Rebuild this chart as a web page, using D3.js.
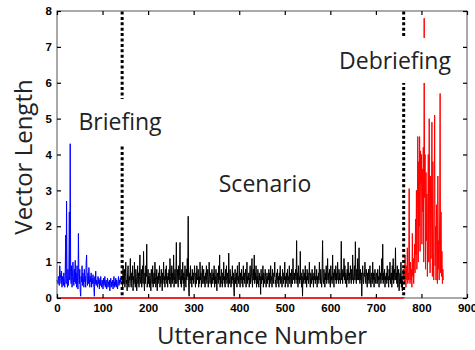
<!DOCTYPE html>
<html><head><meta charset="utf-8">
<script src="https://cdn.jsdelivr.net/npm/d3@7"></script>
<style>body{margin:0;background:#fff}svg{display:block}</style>
</head><body>
<svg id="c" width="475" height="350"></svg>
<script>
// ---- data ----
const xTicks = [0,100,200,300,400,500,600,700,800,900];
const yTicks = [0,1,2,3,4,5,6,7,8];
const phaseBounds = [143, 761];
const phaseLabels = ["Briefing","Scenario","Debriefing"];
const briefingStart = 0;
const briefing = [
0.5,0.45,0.4,0.6,0.5,0.35,0.9,0.7,0.55,0.4,0.75,0.3,0.6,0.5,0.35,0.7,0.45,0.3,0.6,1.75,
0.4,2.7,0.5,0.3,0.8,0.35,0.6,2.4,0.5,4.3,0.7,0.4,0.9,0.3,0.6,1.0,0.5,0.35,0.8,0.45,
1.05,0.4,0.7,0.3,0.9,0.5,0.25,1.8,0.6,0.4,0.8,0.2,0.05,0.6,0.45,0.9,0.35,0.7,0.5,0.3,
0.8,0.45,0.6,0.3,1.0,1.2,0.5,0.35,0.7,0.4,0.85,0.55,0.3,0.6,0.45,0.7,0.3,0.55,0.4,0.65,
0.5,0.3,0.05,0.6,0.4,0.75,0.35,0.5,0.45,0.3,0.6,0.4,0.55,0.25,0.5,0.35,0.6,0.4,0.3,0.5,
0.45,0.25,0.55,0.35,0.4,0.6,0.3,0.45,0.5,0.25,0.4,0.55,0.3,0.45,0.35,0.5,0.2,0.4,0.55,0.3,
0.45,0.35,0.5,0.25,0.4,0.6,0.3,0.45,0.35,0.55,0.3,0.5,0.4,0.25,0.45,0.6,0.35,0.5,0.4,0.55,0.45,0.6,0.5];
const scenarioStart = 143;
const scenario = [
0.6,0.3,0.9,0.5,0.4,0.8,0.3,0.6,1.0,0.4,0.5,0.2,0.7,0.9,0.4,0.3,0.6,0.5,1.1,0.4,
0.3,0.7,0.5,0.9,0.2,0.6,0.4,1.0,0.5,0.3,0.8,0.6,0.2,0.5,0.9,0.4,0.7,0.3,0.6,1.2,
0.5,0.4,0.8,0.3,0.6,0.9,0.4,1.3,0.5,0.2,0.7,0.4,0.9,0.6,1.5,0.3,0.5,0.8,0.4,0.6,
0.3,0.7,0.5,0.2,0.8,0.6,0.4,0.9,0.3,0.5,0.7,0.4,1.0,0.6,0.3,0.5,0.8,0.2,0.6,0.4,
0.7,0.5,0.9,0.3,0.6,0.4,0.8,0.5,0.2,0.7,0.5,1.0,0.4,0.6,0.3,0.8,0.5,0.9,0.4,0.6,
0.3,0.7,0.5,0.8,0.4,1.1,0.6,0.3,0.5,0.9,0.4,0.7,0.5,1.2,0.3,0.6,0.8,0.4,0.7,1.55,
0.4,0.6,0.8,0.3,0.9,0.5,0.7,1.55,0.4,0.6,0.3,0.8,0.5,1.0,0.4,0.7,0.2,0.6,0.9,0.5,
0.3,0.8,0.5,1.1,0.6,2.28,0.3,0.05,0.7,0.5,0.9,0.4,0.6,0.3,0.8,0.5,0.7,0.4,0.6,0.9,
0.5,0.3,0.7,0.4,0.9,0.6,0.5,0.8,0.3,0.6,0.4,1.0,0.5,0.7,0.3,0.6,0.9,0.4,0.5,0.8,
0.4,0.6,0.3,0.7,0.5,0.9,0.4,0.6,0.8,0.3,0.5,1.0,0.6,0.4,0.7,0.5,0.3,0.8,0.6,0.4,
0.7,0.5,0.9,0.3,0.6,0.4,0.8,0.5,0.2,0.7,0.6,0.4,0.9,0.5,1.2,0.3,0.6,0.4,0.8,0.5,
0.3,0.7,0.5,1.0,0.4,0.6,0.3,0.8,0.5,0.9,0.4,0.6,0.7,0.3,1.25,0.5,0.4,0.8,0.6,0.3,
0.6,0.4,0.9,0.5,0.7,0.3,0.05,0.6,0.8,0.4,0.5,0.7,0.3,0.9,0.5,0.6,0.4,1.0,0.5,0.3,
0.7,0.5,0.8,0.4,0.6,0.3,0.9,0.5,0.7,0.4,0.6,0.8,0.3,0.5,1.0,0.4,0.6,0.5,0.7,0.3,
0.6,0.9,0.4,0.5,0.7,1.1,0.3,0.6,0.8,0.5,1.2,0.4,0.7,0.5,0.9,0.3,0.6,0.4,0.8,0.5,
0.3,0.7,0.5,0.6,0.1,0.8,0.4,0.6,0.5,0.9,0.3,0.7,0.5,0.4,0.8,0.6,0.3,0.5,0.7,0.4,
0.6,0.5,0.8,0.3,0.7,0.4,0.9,0.5,0.6,0.3,0.8,0.5,0.4,0.7,0.6,1.0,0.4,0.5,0.3,0.7,
0.5,0.8,0.4,0.6,0.3,0.7,0.5,0.9,0.4,0.6,0.5,0.3,0.8,0.6,0.4,0.7,0.5,1.0,0.3,0.6,
0.4,0.7,0.5,0.8,0.3,0.6,0.5,0.9,0.4,0.7,0.6,0.3,0.8,0.5,0.4,1.1,0.6,0.5,0.7,0.4,
0.6,0.8,0.5,1.6,0.4,0.7,0.3,0.9,0.5,0.6,0.4,1.3,0.5,0.7,0.3,0.6,0.05,0.8,0.5,0.4,
0.7,0.5,0.9,0.4,0.6,0.3,0.8,0.5,0.7,0.4,0.6,1.0,0.5,0.3,0.7,0.6,0.4,0.8,0.5,0.6,
0.3,0.7,0.5,0.9,0.4,0.6,0.5,0.8,0.3,0.6,0.4,0.7,0.5,1.0,0.6,0.4,0.8,0.5,0.3,0.7,
1.6,0.5,0.4,0.8,0.6,0.3,0.7,0.5,0.9,0.4,0.6,1.1,0.5,0.7,0.4,0.8,0.6,0.3,0.9,0.5,
0.6,0.4,1.2,0.5,0.7,0.3,0.8,0.6,0.5,0.9,0.4,0.7,0.5,1.0,0.6,0.4,0.8,0.5,0.7,0.4,
0.6,1.58,0.5,0.8,0.4,0.7,0.6,1.1,0.5,0.9,0.4,0.7,0.6,0.3,0.8,0.5,1.0,0.6,0.4,0.7,
0.5,0.9,0.6,0.4,0.8,0.5,1.2,0.7,0.4,0.6,0.9,0.5,1.57,0.6,0.4,0.8,0.5,1.1,0.7,0.5,
1.4,0.6,0.4,0.8,0.5,0.7,0.05,0.6,0.9,0.5,0.4,0.7,0.6,1.0,0.5,0.4,0.8,0.6,0.3,0.7,
0.5,0.8,0.4,0.6,0.9,0.5,0.3,0.7,0.6,0.4,1.0,0.5,0.7,0.3,0.6,0.8,0.5,0.4,0.7,0.6,
0.4,0.8,0.5,0.6,0.3,0.9,0.5,0.7,0.4,0.6,1.1,0.5,1.5,0.4,0.7,0.5,0.8,0.3,0.6,0.5,
0.7,0.4,0.9,0.5,0.6,0.3,0.8,0.5,1.0,0.4,0.6,0.7,0.3,0.9,0.5,1.1,0.4,0.6,0.8,0.5,
1.4,0.5,0.7,0.4,0.9,0.3,0.6,0.8,0.2,0.5,0.7,0.4,1.0,0.3,0.6,0.2,0.5,0.8,0.5];
const debriefingStart = 761;
const debriefing = [
0.5,0.8,0.4,1.2,0.6,0.3,0.9,0.5,1.4,0.4,0.7,0.5,3.05,0.6,0.4,1.0,0.5,0.8,0.3,1.8,
0.6,1.1,0.4,0.9,1.5,0.7,2.2,1.2,3.0,0.8,2.5,4.5,1.0,3.8,2.0,4.5,1.3,4.1,3.2,4.0,
1.5,3.6,2.4,4.2,1.0,7.8,2.8,4.0,0.8,3.5,1.6,2.9,0.6,1.8,4.0,1.0,5.0,2.2,0.7,3.4,
1.1,2.5,4.9,0.6,3.8,1.3,0.5,2.6,5.1,0.9,2.0,0.5,2.6,1.2,0.4,3.4,0.8,1.6,0.5,2.4,
5.7,0.7,2.4,0.6,1.3,0.4,0.8,0.5];

// ---- chart ----
const svg = d3.select("#c");
const x = d3.scaleLinear().domain([0,900]).range([57,467]);
const y = d3.scaleLinear().domain([0,8]).range([298,11]);

const line = d3.line().x(d=>x(d[0])).y(d=>y(d[1]));
function series(vals,start,color){
  const pts = vals.map((v,i)=>[start+i,v]);
  svg.append("path").attr("d",line(pts)).attr("fill","none")
    .attr("stroke",color).attr("stroke-width",1).attr("stroke-linejoin","round");
}
series(briefing,briefingStart,"#0000ff");
series(scenario,scenarioStart,"#000000");
series(debriefing,debriefingStart,"#ff0000");

// frame
svg.append("rect").attr("x",x(0)).attr("y",y(8)).attr("width",x(900)-x(0)).attr("height",y(0)-y(8))
  .attr("fill","none").attr("stroke","#555").attr("stroke-width",1);

// red zero line (drawn over the frame's bottom edge)
svg.append("line").attr("x1",x(0)).attr("x2",x(phaseBounds[1]))
  .attr("y1",y(0)).attr("y2",y(0)).attr("stroke","#ff0000").attr("stroke-width",1.6);

const tickFont = "bold 11.5px 'Liberation Sans', Arial, sans-serif";
const gB = svg.append("g").attr("transform",`translate(0,${y(0)})`)
  .call(d3.axisBottom(x).tickValues(xTicks).tickFormat(d3.format("d")).tickSizeInner(-4).tickSizeOuter(0).tickPadding(6));
const gT = svg.append("g").attr("transform",`translate(0,${y(8)})`)
  .call(d3.axisTop(x).tickValues(xTicks).tickFormat("").tickSizeInner(-4).tickSizeOuter(0));
const gL = svg.append("g").attr("transform",`translate(${x(0)},0)`)
  .call(d3.axisLeft(y).tickValues(yTicks).tickFormat(d3.format("d")).tickSizeInner(-4).tickSizeOuter(0).tickPadding(5));
const gR = svg.append("g").attr("transform",`translate(${x(900)},0)`)
  .call(d3.axisRight(y).tickValues(yTicks).tickFormat("").tickSizeInner(-4).tickSizeOuter(0));
[gB,gT,gL,gR].forEach(g=>{
  g.select(".domain").remove();
  g.selectAll(".tick line").attr("stroke","#000").attr("stroke-width",1.2);
  g.selectAll("text").style("font",tickFont).attr("fill","#000");
});

// phase separators
phaseBounds.forEach(b=>{
  svg.append("line").attr("x1",x(b)).attr("x2",x(b)).attr("y1",y(8)+0.5).attr("y2",y(0))
    .attr("stroke","#000").attr("stroke-width",3).attr("stroke-dasharray","3,2.4");
});

const labFont = "'Open Sans', sans-serif";
function label(txt, cx, base, size, boxed){
  const t = svg.append("text").attr("x",cx).attr("y",base).attr("text-anchor","middle")
    .style("font-family",labFont).style("font-size",size+"px").attr("fill","#222").text(txt);
  if(boxed){
    const bb = t.node().getBBox();
    svg.insert("rect", () => t.node()).attr("x",bb.x-2).attr("y",bb.y-6)
      .attr("width",bb.width+4).attr("height",bb.height+13).attr("fill","#fff");
  }
  return t;
}
label(phaseLabels[0], 120, 130, 23, true);
label(phaseLabels[1], 265, 192, 23, false);
label(phaseLabels[2], 395, 69, 23, true);

svg.append("text").attr("x",262).attr("y",344).attr("text-anchor","middle")
  .style("font-family",labFont).style("font-size","24px").attr("fill","#222").text("Utterance Number");
svg.append("text").attr("transform","translate(32,157) rotate(-90)").attr("text-anchor","middle")
  .style("font-family",labFont).style("font-size","24px").attr("fill","#222").text("Vector Length");
</script>
</body></html>
